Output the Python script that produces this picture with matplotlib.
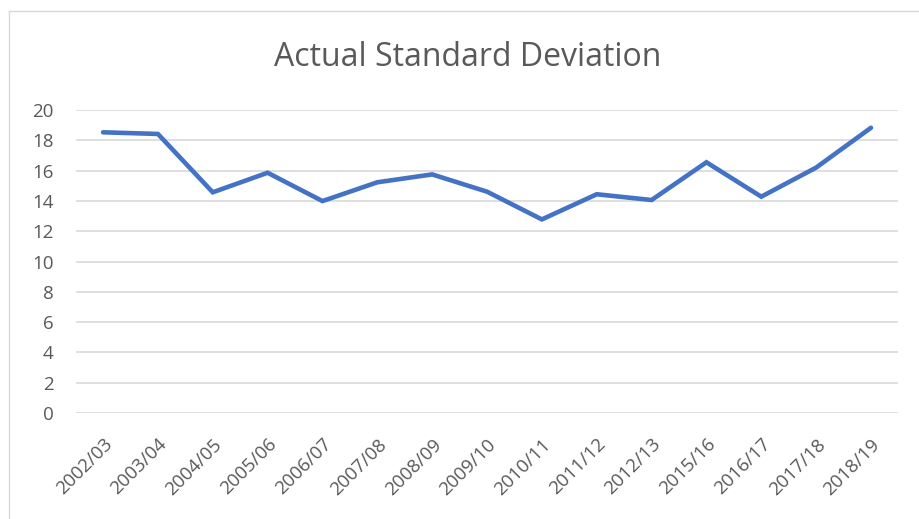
import matplotlib
matplotlib.use("Agg")
import matplotlib.pyplot as plt
from matplotlib.lines import Line2D

categories = ["2002/03", "2003/04", "2004/05", "2005/06", "2006/07", "2007/08",
              "2008/09", "2009/10", "2010/11", "2011/12", "2012/13", "2015/16",
              "2016/17", "2017/18", "2018/19"]
values = [18.53, 18.42, 14.57, 15.86, 13.99, 15.23, 15.75, 14.61, 12.78,
          14.44, 14.06, 16.55, 14.28, 16.2, 18.83]
yticks = [0, 2, 4, 6, 8, 10, 12, 14, 16, 18, 20]

plt.rcParams['font.family'] = ['Open Sans', 'DejaVu Sans']

fig = plt.figure(figsize=(9.19, 5.19), dpi=100)
ax = fig.add_axes([0.0823, 0.2042, 0.8953, 0.5838])

x = list(range(len(categories)))
ax.plot(x, values, color="#4472C4", linewidth=3.3, solid_capstyle="round",
        solid_joinstyle="miter", zorder=3)

ax.set_xlim(-0.5, len(categories) - 0.5)
ax.set_ylim(0, 20)
ax.set_yticks(yticks)
ax.set_yticklabels([str(v) for v in yticks], fontsize=13.5, color="#595959")
ax.set_xticks(x)
ax.set_xticklabels(categories, rotation=45, ha="right", va="top",
                   rotation_mode="anchor", fontsize=13.5, color="#595959")
ax.tick_params(axis="both", length=0)
ax.tick_params(axis="y", pad=16)
ax.tick_params(axis="x", pad=16)
ax.grid(axis="y", color="#D9D9D9", linewidth=1.2, zorder=0)
ax.set_axisbelow(True)
for s in ax.spines.values():
    s.set_visible(False)

fig.text(0.509, 1 - 66.5/519, "Actual Standard Deviation", ha="center", va="baseline",
         fontsize=23, color="#595959")

# outer chart border (left and top edges visible)
fig.add_artist(Line2D([9/919, 9/919], [0, 1 - 11/519], transform=fig.transFigure,
                      color="#D9D9D9", linewidth=1.0))
fig.add_artist(Line2D([9/919, 1], [1 - 11/519, 1 - 11/519], transform=fig.transFigure,
                      color="#D9D9D9", linewidth=1.0))

fig.savefig("out.png", dpi=100, facecolor="white")
